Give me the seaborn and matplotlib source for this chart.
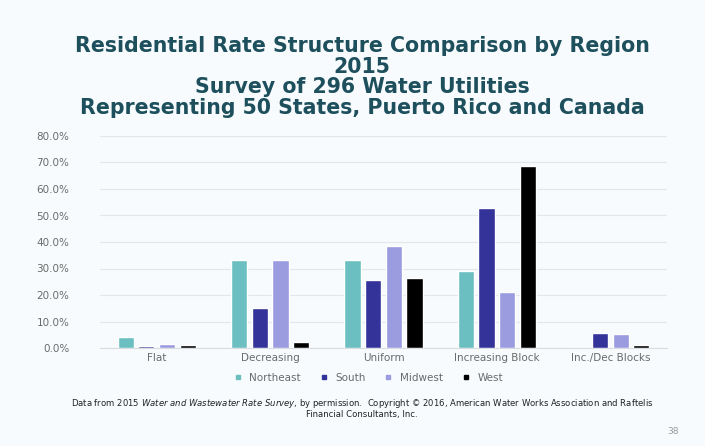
import pandas as pd
import numpy as np
import seaborn as sns
import matplotlib.pyplot as plt
from matplotlib.lines import Line2D
from matplotlib.ticker import PercentFormatter

# data (percent of utilities)
categories = ['Flat', 'Decreasing', 'Uniform', 'Increasing Block', 'Inc./Dec Blocks']
regions = ['Northeast', 'South', 'Midwest', 'West']
northeast = [4.0, 33.3, 33.3, 29.1, 0.0]
south = [0.8, 15.2, 25.5, 52.7, 5.7]
midwest = [1.6, 33.3, 38.5, 21.0, 5.3]
west = [1.1, 2.3, 26.6, 68.7, 1.0]

colors = ['#6cbfc0', '#333399', '#9b9be0', '#000000']

df = pd.DataFrame({
    'category': categories * 4,
    'region': np.repeat(regions, len(categories)),
    'pct': northeast + south + midwest + west,
})

sns.set_style('white')
fig = plt.figure(figsize=(7.05, 4.46), dpi=100)
fig.patch.set_facecolor('#f7fbfd')
ax = fig.add_axes([100 / 705, 1 - 348 / 446, 567 / 705, 212 / 446])
ax.set_facecolor('none')

sns.barplot(data=df, x='category', y='pct', hue='region', palette=colors,
            saturation=1, width=0.73, gap=0.22, ax=ax, legend=False)

ax.set_xlim(-0.5, 4.5)
ax.set_ylim(0, 80)
ax.set_yticks(np.arange(0, 81, 10))
ax.yaxis.set_major_formatter(PercentFormatter(decimals=1))
ax.grid(axis='y', color='#e3e6ea', linewidth=0.8)
ax.set_axisbelow(True)
for s in ['top', 'right', 'left']:
    ax.spines[s].set_visible(False)
ax.spines['bottom'].set_color('#d9dce0')
ax.tick_params(axis='both', length=0, labelsize=7.5, colors='#6a6a6a')
ax.tick_params(axis='y', pad=22)
ax.set_xlabel('')
ax.set_ylabel('')

# legend
handles = [Line2D([0], [0], marker='s', linestyle='', markersize=3.5,
                  markerfacecolor=c, markeredgecolor=c) for c in colors]
fig.legend(handles, regions, loc='center', bbox_to_anchor=(365 / 705, 1 - 378 / 446),
           ncol=4, frameon=False, fontsize=7.5, handletextpad=0.1, columnspacing=1.2,
           labelcolor='#6a6a6a')

# title
title = ('Residential Rate Structure Comparison by Region\n2015\n'
         'Survey of 296 Water Utilities\nRepresenting 50 States, Puerto Rico and Canada')
fig.text(362 / 705, 1 - 77 / 446, title, ha='center', va='center', fontsize=14.8,
         fontweight='bold', color='#1d4f5c', linespacing=1.03)

# footnote
fig.text(362 / 705, 1 - 404 / 446,
         'Data from $\\it{2015\\ Water\\ and\\ Wastewater\\ Rate\\ Survey}$, by permission.  '
         'Copyright \u00a9 2016, American Water Works Association and Raftelis',
         ha='center', va='center', fontsize=6.1, color='#222222')
fig.text(362 / 705, 1 - 415 / 446, 'Financial Consultants, Inc.',
         ha='center', va='center', fontsize=6.1, color='#222222')
fig.text(673 / 705, 1 - 432 / 446, '38', ha='center', va='center',
         fontsize=6.5, color='#9a9a9a')

fig.savefig('out.png', dpi=100, facecolor=fig.get_facecolor())
